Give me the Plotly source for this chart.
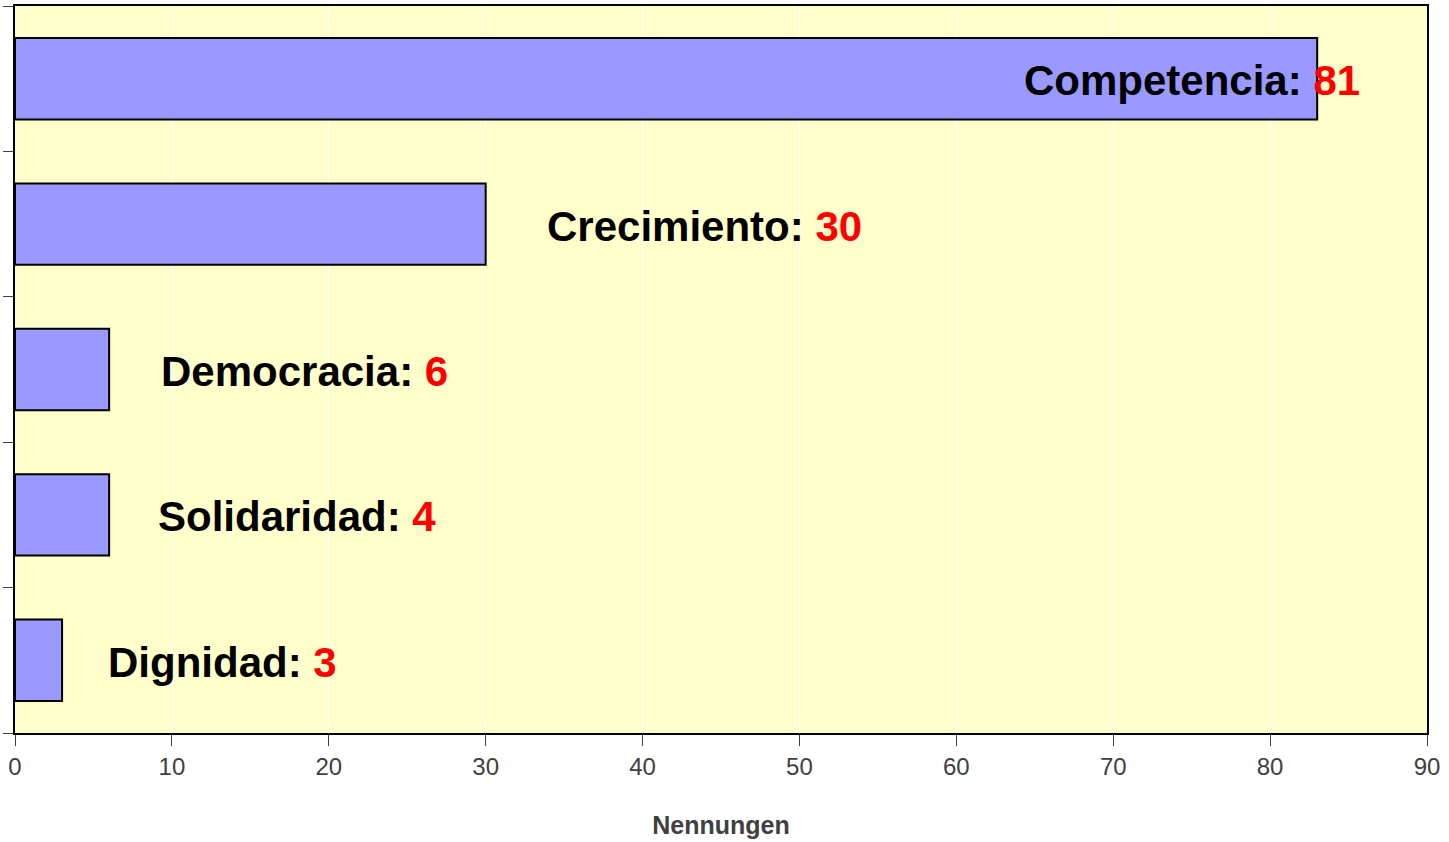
import plotly.graph_objects as go

categories = ["Competencia", "Crecimiento", "Democracia", "Solidaridad", "Dignidad"]
bar_values = [83, 30, 6, 6, 3]
label_values = [81, 30, 6, 4, 3]
label_x = [64.2, 33.8, 9.2, 9.0, 5.8]
x_ticks = [0, 10, 20, 30, 40, 50, 60, 70, 80, 90]

fig = go.Figure()
fig.add_trace(go.Bar(
    y=categories, x=bar_values, orientation="h",
    marker=dict(color="#9999FF", line=dict(color="#000000", width=2)),
    hoverinfo="x+y",
))

for cat, val, lx in zip(categories, label_values, label_x):
    fig.add_annotation(
        x=lx, y=cat, xref="x", yref="y", xanchor="left", yanchor="middle", yshift=-2,
        text=f"<b>{cat}: <span style='color:#FF0000'>{val}</span></b>",
        showarrow=False,
        font=dict(family="Liberation Sans, Arial, sans-serif", size=42, color="#000000"),
    )

fig.update_layout(
    width=1449, height=842,
    margin=dict(l=15, r=22, t=6, b=109, autoexpand=False),
    plot_bgcolor="#FFFFCC",
    paper_bgcolor="#FFFFFF",
    bargap=0.44,
    showlegend=False,
    font=dict(family="Liberation Sans, Arial, sans-serif", color="#404040"),
)
fig.update_xaxes(
    range=[0, 90], tickvals=x_ticks, ticks="outside", ticklen=11, tickwidth=1, tickcolor="#404040",
    tickfont=dict(size=24, color="#404040"),
    showgrid=True, gridcolor="#FFFFFF", gridwidth=1,
    showline=True, linecolor="#000000", linewidth=2, mirror=True,
    zeroline=False, automargin=False,
    title=dict(text="<b>Nennungen</b>", font=dict(size=25, color="#404040"), standoff=38),
)
fig.update_yaxes(
    type="category", categoryorder="array", categoryarray=categories[::-1],
    tickson="boundaries", ticks="outside", ticklen=10, tickwidth=1, tickcolor="#404040",
    showticklabels=False, showgrid=False,
    showline=True, linecolor="#000000", linewidth=2, mirror=True,
    automargin=False,
)

fig.write_html("out.html", config={"displayModeBar": False},
               post_script="document.body.style.margin='0';")
